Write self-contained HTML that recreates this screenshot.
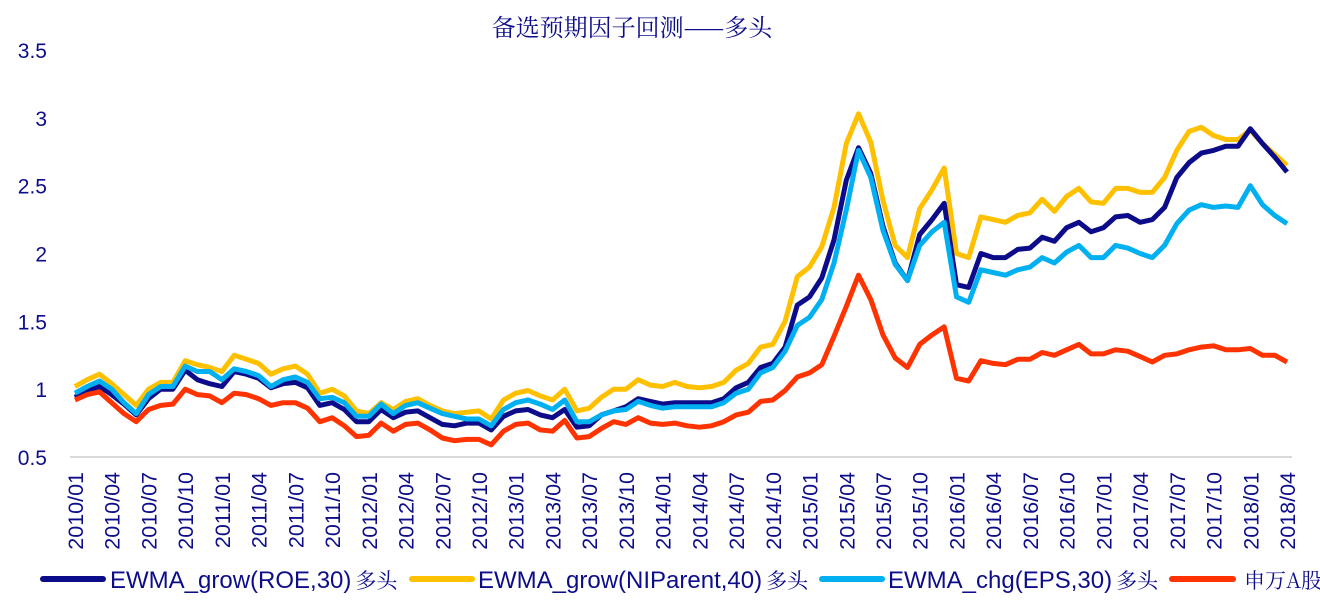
<!DOCTYPE html>
<html><head><meta charset="utf-8"><style>
html,body{margin:0;padding:0;background:#fff;width:1320px;height:600px;overflow:hidden}
svg{display:block}
text{font-family:"Liberation Sans","Noto Sans CJK SC",sans-serif;fill:#0d0d8a}
.cjk{font-family:"Noto Serif CJK SC","WenQuanYi Zen Hei",serif}
</style></head><body>
<svg id="chart" width="1320" height="600" viewBox="0 0 1320 600">
<text x="632" y="36" text-anchor="middle" font-size="24" class="cjk" style="font-family:'Noto Serif CJK SC',serif">备选预期因子回测——多头</text>
<g id="yaxis"></g>
<line x1="70" y1="457" x2="1292" y2="457" stroke="#d9d9d9" stroke-width="2"/>
<g id="xaxis"></g>
<g id="series"></g>
<g id="legend"></g>
</svg>
<script>
const months = [];
for (let y = 2010; y <= 2018; y++) for (let m = 1; m <= 12; m++) { if (months.length < 100) months.push(y + '/' + String(m).padStart(2, '0')); }
const yTicks = [0.5, 1, 1.5, 2, 2.5, 3, 3.5];
const roeValues = [0.94,0.99,1.02,0.96,0.89,0.81,0.93,1.00,1.00,1.14,1.07,1.04,1.02,1.13,1.11,1.08,1.01,1.04,1.05,1.01,0.88,0.90,0.85,0.76,0.76,0.85,0.79,0.83,0.84,0.79,0.74,0.73,0.75,0.75,0.70,0.80,0.84,0.85,0.81,0.79,0.85,0.72,0.73,0.81,0.84,
0.87,0.93,0.91,0.89,0.90,0.90,0.90,0.90,0.93,
1.01,1.05,1.16,1.19,1.31,1.62,1.68,1.82,2.10,2.54,2.78,2.59,2.20,1.93,1.80,2.14,2.25,2.37,
1.77,1.75,2.00,1.97,1.97,2.03,2.04,2.12,2.09,2.19,2.23,2.16,2.19,2.27,2.28,2.23,2.25,2.34,2.56,2.67,2.74,2.76,2.79,2.79,2.92,2.81,2.71,2.60];
const niValues = [1.02,1.07,1.11,1.04,0.96,0.88,1.00,1.05,1.05,1.21,1.18,1.16,1.13,1.25,1.22,1.19,1.11,1.15,1.17,1.11,0.97,1.00,0.95,0.84,0.82,0.90,0.85,0.91,0.93,0.88,0.84,0.82,0.83,0.84,0.78,0.92,0.97,0.99,0.95,0.92,1.00,0.84,0.86,0.94,1.00,
1.00,1.07,1.03,1.02,1.05,1.02,1.01,1.02,1.05,
1.14,1.19,1.31,1.33,1.50,1.83,1.90,2.05,2.34,2.81,3.03,2.82,2.39,2.06,1.97,2.33,2.47,2.63,
2.00,1.97,2.27,2.25,2.23,2.28,2.30,2.40,2.31,2.42,2.48,2.38,2.37,2.48,2.48,2.45,2.45,2.56,2.76,2.90,2.93,2.87,2.84,2.84,2.91,2.81,2.73,2.65];
const epsValues = [0.97,1.02,1.06,1.00,0.90,0.82,0.96,1.02,1.02,1.17,1.13,1.13,1.07,1.15,1.13,1.10,1.02,1.07,1.09,1.05,0.93,0.94,0.90,0.80,0.80,0.89,0.82,0.88,0.90,0.86,0.82,0.80,0.78,0.78,0.73,0.85,0.90,0.92,0.89,0.85,0.92,0.76,0.76,0.81,0.84,
0.85,0.91,0.88,0.86,0.87,0.87,0.87,0.87,0.90,
0.97,1.00,1.12,1.16,1.28,1.47,1.53,1.66,1.93,2.32,2.76,2.56,2.17,1.92,1.80,2.06,2.16,2.23,
1.68,1.64,1.88,1.86,1.84,1.88,1.90,1.97,1.93,2.01,2.06,1.97,1.97,2.06,2.04,2.00,1.97,2.06,2.22,2.32,2.36,2.34,2.35,2.34,2.50,2.36,2.28,2.22];
const swValues = [0.92,0.96,0.98,0.90,0.82,0.76,0.85,0.88,0.89,1.00,0.96,0.95,0.90,0.97,0.96,0.93,0.88,0.90,0.90,0.86,0.76,0.79,0.73,0.65,0.66,0.75,0.69,0.74,0.75,0.70,0.64,0.62,0.63,0.63,0.59,0.69,0.74,0.75,0.70,0.69,0.77,0.64,0.65,0.71,0.76,
0.74,0.79,0.75,0.74,0.75,0.73,0.72,0.73,0.76,
0.81,0.83,0.91,0.92,0.99,1.09,1.12,1.18,1.39,1.61,1.84,1.66,1.40,1.23,1.16,1.33,1.40,1.46,
1.08,1.06,1.21,1.19,1.18,1.22,1.22,1.27,1.25,1.29,1.33,1.26,1.26,1.29,1.28,1.24,1.20,1.25,1.26,1.29,1.31,1.32,1.29,1.29,1.30,1.25,1.25,1.20];
const seriesLatin = ['EWMA_grow(ROE,30)', 'EWMA_grow(NIParent,40)', 'EWMA_chg(EPS,30)', ''];
const seriesCjk = ['多头', '多头', '多头', '申万A股'];

const NS = 'http://www.w3.org/2000/svg';
const X0 = 75, X1 = 1287, Y0 = 457, Y1 = 50, VMIN = 0.5, VMAX = 3.5;
const xScale = i => X0 + (X1 - X0) * i / (months.length - 1);
const yScale = v => Y0 - (v - VMIN) / (VMAX - VMIN) * (Y0 - Y1);
function mk(tag, attrs, parent) { const e = document.createElementNS(NS, tag); for (const k in attrs) e.setAttribute(k, attrs[k]); parent.appendChild(e); return e; }

const ya = document.getElementById('yaxis');
yTicks.forEach(t => {
  const e = mk('text', { x: 47, y: yScale(t) + 8, 'text-anchor': 'end', 'font-size': 21 }, ya);
  
  
  e.textContent = String(t);
});
const xa = document.getElementById('xaxis');
months.forEach((m, i) => {
  if (i % 3 !== 0) return;
  const x = xScale(i) + 8, y = 472;
  const e = mk('text', { x: x, y: y, 'text-anchor': 'end', 'font-size': 21.5, transform: 'rotate(-90 ' + x + ' ' + y + ')' }, xa);
  
  
  e.textContent = m;
});
const sg = document.getElementById('series');
const order = [[niValues,'#ffc000','line-niparent'],[roeValues,'#0c0c8a','line-roe'],[epsValues,'#00b0f0','line-eps'],[swValues,'#ff3300','line-sw-a-share']];
order.forEach(([vals, col, name]) => {
  const d = vals.map((v, i) => (i ? 'L' : 'M') + xScale(i).toFixed(1) + ' ' + yScale(v).toFixed(1)).join(' ');
  const p = mk('path', { d: d, fill: 'none', stroke: col, 'stroke-width': 5, 'stroke-linejoin': 'round' }, sg);
  
  
});
const lg = document.getElementById('legend');
const legendItems = [[43, 103, '#0c0c8a', 110], [412, 472, '#ffc000', 478], [822, 882, '#00b0f0', 888], [1172, 1233, '#ff3300', 1240]];
legendItems.forEach(([a, b, col, tx], k) => {
  const l = mk('line', { x1: a, y1: 579, x2: b, y2: 579, stroke: col, 'stroke-width': 6, 'stroke-linecap': 'round' }, lg);
  
  
  const t = mk('text', { x: tx, y: 588, 'font-size': 24 }, lg);
  
  
  t.textContent = seriesLatin[k];
  const s = mk('tspan', { class: 'cjk', 'font-size': 21, dx: 4 }, t);
  s.textContent = seriesCjk[k];
});
</script>
</body></html>
